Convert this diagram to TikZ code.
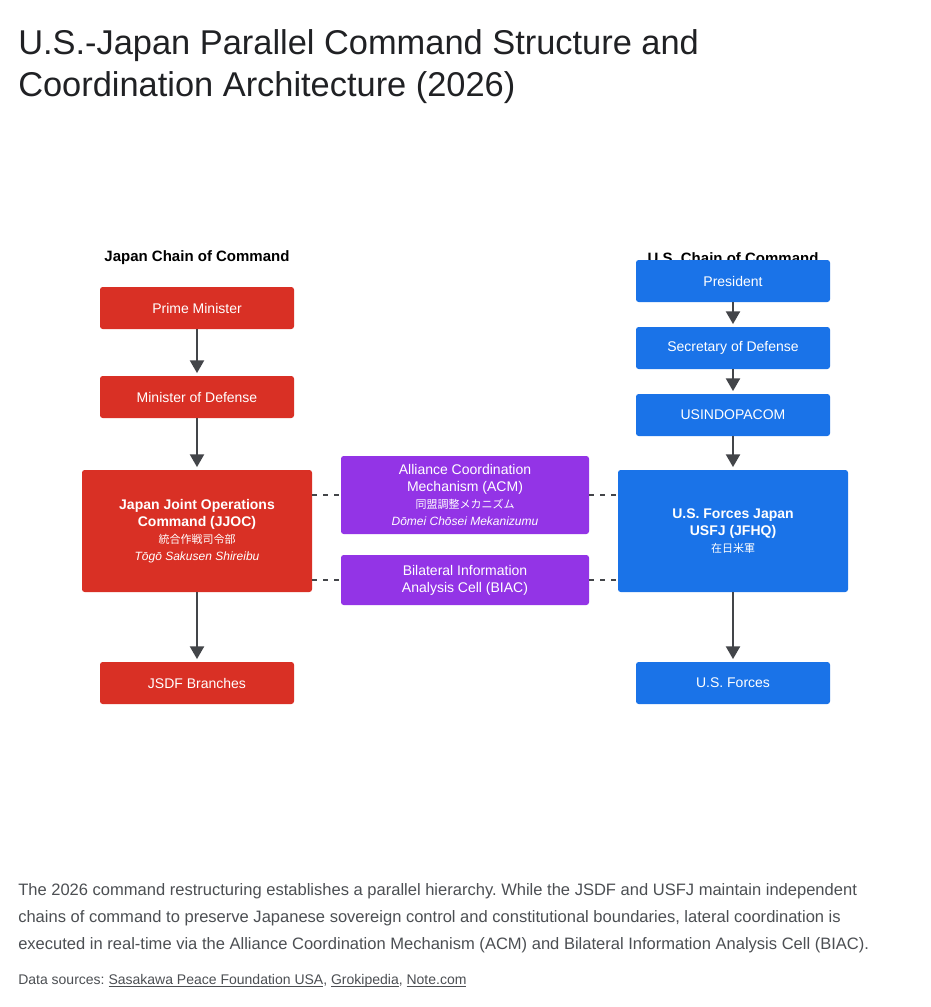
\documentclass[tikz,border=0pt]{standalone}
\usepackage{fontspec}
\setmainfont{Liberation Sans}
\newfontfamily\jpfont{Noto Sans CJK JP}
\usetikzlibrary{positioning,arrows.meta}
\frenchspacing

\definecolor{jred}{HTML}{D93025}
\definecolor{usblue}{HTML}{1A73E8}
\definecolor{acmpurple}{HTML}{9334E6}
\definecolor{linkgray}{HTML}{5F6368}
\definecolor{titleink}{HTML}{202124}

% underlined source name with a fixed underline depth
\newcommand{\srclink}[1]{\setbox0\hbox{#1}\rlap{\rule[-1.7pt]{\wd0}{0.55pt}}\box0}

\tikzset{
  box/.style={draw=none, rounded corners=2pt, text=white, align=center,
    inner sep=0pt, font=\fontsize{10.5}{12.75}\selectfont},
  jbox/.style={box, fill=jred, minimum width=145.5pt, minimum height=31.5pt},
  ubox/.style={box, fill=usblue, minimum width=145.5pt, minimum height=31.5pt},
  bigbox/.style={box, minimum width=172.5pt, minimum height=91.5pt},
  midbox/.style={box, fill=acmpurple, minimum width=186pt},
  chainarrow/.style={draw=linkgray!70!black, line width=1.5pt, shorten >=2pt,
    -{Triangle[length=9.5pt,width=10.5pt]}},
  link/.style={draw=linkgray!70!black, line width=1.2pt, dash pattern=on 3.75pt off 4.5pt},
  heading/.style={font=\fontsize{11.25}{13}\selectfont\bfseries, text=black},
  caption/.style={anchor=base west, inner sep=0pt, text=linkgray!80!black,
    font=\fontsize{12.4}{15}\selectfont}
}

\begin{document}
\begin{tikzpicture}[x=0.75pt,y=-0.75pt]
\useasboundingbox[fill=white] (0,0) rectangle (931,1007);

% title
\node[anchor=base west, inner sep=0pt, text=titleink, font=\fontsize{25.8}{30}\selectfont] (title1) at (18,54) {U.S.-Japan Parallel Command Structure and};
\node[anchor=base west, inner sep=0pt, text=titleink, font=\fontsize{25.8}{30}\selectfont] (title2) at (18,96) {Coordination Architecture (2026)};

% Japan side
\node[heading] (jhead) at (197,258) {Japan Chain of Command};
\node[jbox] (pm) at (197,308) {Prime Minister};
\node[jbox] (mod) at (197,397) {Minister of Defense};
\node[bigbox, fill=jred] (jjoc) at (197,531) {{\bfseries Japan Joint Operations}\\{\bfseries Command (JJOC)}\\{\jpfont\fontsize{8.25}{12.75}\selectfont 統合作戦司令部}\\{\itshape\fontsize{9}{12.75}\selectfont Tōgō Sakusen Shireibu}};
\node[jbox] (jsdf) at (197,683) {JSDF Branches};

% U.S. side (heading sits behind the President box)
\node[heading] (ushead) at (733,258) {U.S. Chain of Command};
\node[ubox] (pres) at (733,281) {President};
\node[ubox] (secdef) at (733,348) {Secretary of Defense};
\node[ubox] (indopacom) at (733,415) {USINDOPACOM};
\node[bigbox, fill=usblue] (usfj) at (733,531) {{\bfseries U.S. Forces Japan}\\{\bfseries USFJ (JFHQ)}\\{\jpfont\fontsize{8.25}{12.75}\selectfont 在日米軍}};
\node[ubox] (usforces) at (733,683) {U.S. Forces};

% coordination bodies
\node[midbox, minimum height=58.5pt] (acm) at (465,495) {Alliance Coordination\\Mechanism (ACM)\\{\jpfont\fontsize{8.25}{12.75}\selectfont 同盟調整メカニズム}\\{\itshape\fontsize{9}{12.75}\selectfont Dōmei Chōsei Mekanizumu}};
\node[midbox, minimum height=37.5pt] (biac) at (465,580) {Bilateral Information\\Analysis Cell (BIAC)};

% chains
\draw[chainarrow] (pm) -- (mod);
\draw[chainarrow] (mod) -- (jjoc);
\draw[chainarrow] (jjoc) -- (jsdf);
\draw[chainarrow] (pres) -- (secdef);
\draw[chainarrow] (secdef) -- (indopacom);
\draw[chainarrow] (indopacom) -- (usfj);
\draw[chainarrow] (usfj) -- (usforces);

% lateral links
\draw[link] (jjoc.east |- acm.west) -- (acm.west);
\draw[link] (jjoc.east |- biac.west) -- (biac.west);
\draw[link] (acm.east) -- (usfj.west |- acm.east);
\draw[link] (biac.east) -- (usfj.west |- biac.east);

% caption
\node[caption] (cap1) at (18,895) {The 2026 command restructuring establishes a parallel hierarchy. While the JSDF and USFJ maintain independent};
\node[caption] (cap2) at (18,922) {chains of command to preserve Japanese sovereign control and constitutional boundaries, lateral coordination is};
\node[caption] (cap3) at (18,949) {executed in real-time via the Alliance Coordination Mechanism (ACM) and Bilateral Information Analysis Cell (BIAC).};
\node[caption, font=\fontsize{10.5}{13}\selectfont] (sources) at (18,984) {Data sources: \srclink{Sasakawa Peace Foundation USA}, \srclink{Grokipedia}, \srclink{Note.com}};
\end{tikzpicture}
\end{document}
